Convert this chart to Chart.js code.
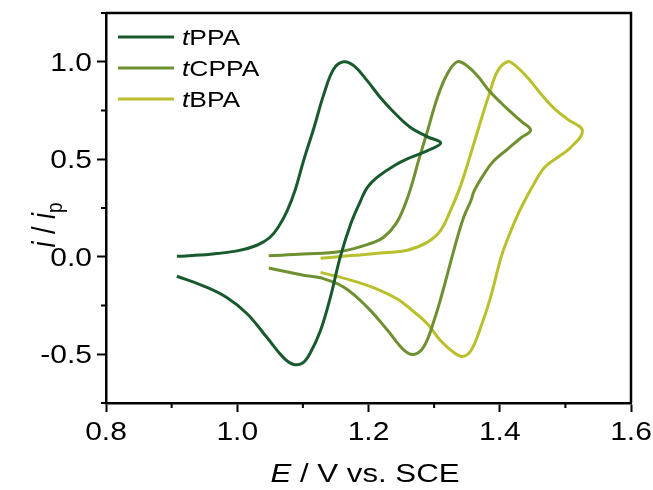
<!DOCTYPE html>
<html>
<head>
<meta charset="utf-8">
<script src="https://cdn.jsdelivr.net/npm/chart.js@4"></script>
<style>
  html, body { margin: 0; padding: 0; background: #fff; }
  #cv { display: block; }
</style>
</head>
<body>
<canvas id="cv" width="653" height="490"></canvas>
<script>
// cyclic voltammograms
var names = ['PPA', 'CPPA', 'BPA'];
var colors = ['rgb(24,90,45)', 'rgb(110,144,48)', 'rgb(185,192,44)'];

var tppaE = [0.908, 0.959, 1.000, 1.030, 1.050, 1.064, 1.076, 1.088, 1.101, 1.117, 1.132, 1.147, 1.162, 1.178, 1.198, 1.218, 1.239, 1.264, 1.290, 1.310,
             1.290, 1.264, 1.239, 1.213, 1.198, 1.188, 1.173, 1.157, 1.142, 1.127, 1.111, 1.099, 1.085, 1.070, 1.045, 1.015, 0.984, 0.948, 0.908];
var tppaI = [0.002, 0.013, 0.030, 0.059, 0.100, 0.160, 0.235, 0.340, 0.492, 0.663, 0.834, 0.963, 1.000, 0.979, 0.903, 0.817, 0.740, 0.663, 0.615, 0.583,
             0.544, 0.509, 0.467, 0.407, 0.355, 0.287, 0.169, -0.001, -0.207, -0.377, -0.495, -0.546, -0.551, -0.516, -0.413, -0.292, -0.209, -0.149, -0.100];

var tcppaE = [1.048, 1.101, 1.157, 1.203, 1.223, 1.242, 1.256, 1.266, 1.276, 1.290, 1.305, 1.320, 1.335, 1.348, 1.366, 1.386, 1.412, 1.432, 1.447,
              1.432, 1.412, 1.391, 1.376, 1.361, 1.356, 1.345, 1.330, 1.315, 1.300, 1.284, 1.269, 1.254, 1.229, 1.198, 1.162, 1.127, 1.101, 1.048];
var tcppaI = [0.005, 0.014, 0.027, 0.068, 0.100, 0.170, 0.270, 0.370, 0.490, 0.646, 0.817, 0.937, 1.000, 0.985, 0.928, 0.843, 0.757, 0.697, 0.650,
              0.609, 0.552, 0.492, 0.424, 0.338, 0.287, 0.202, 0.033, -0.155, -0.326, -0.463, -0.501, -0.479, -0.377, -0.258, -0.155, -0.108, -0.095, -0.058];

var tbpaE = [1.127, 1.173, 1.223, 1.259, 1.290, 1.310, 1.325, 1.338, 1.351, 1.368, 1.384, 1.397, 1.412, 1.422, 1.442, 1.463, 1.484, 1.503, 1.526,
             1.508, 1.488, 1.468, 1.452, 1.440, 1.426, 1.413, 1.402, 1.386, 1.371, 1.356, 1.343, 1.330, 1.310, 1.290, 1.264, 1.244, 1.213, 1.173, 1.127];
var tbpaI = [-0.008, 0.006, 0.020, 0.033, 0.075, 0.135, 0.238, 0.343, 0.475, 0.663, 0.834, 0.954, 1.000, 0.985, 0.920, 0.834, 0.757, 0.706, 0.646,
             0.560, 0.509, 0.458, 0.373, 0.300, 0.205, 0.100, -0.003, -0.208, -0.362, -0.482, -0.511, -0.491, -0.431, -0.345, -0.268, -0.217, -0.166, -0.120, -0.080];

var xTicks = [0.8, 1.0, 1.2, 1.4, 1.6];
var xMinor = [0.9, 1.1, 1.3, 1.5];
var yTicks = [-0.5, 0.0, 0.5, 1.0];
var yMinor = [-0.75, -0.25, 0.25, 0.75, 1.25];

var font = 'Liberation Sans, Arial, sans-serif';
var sx = 1.2;   // the original figure is stretched sideways a bit

function pts(xs, ys) {
  var out = [];
  for (var i = 0; i < xs.length; i++) out.push({x: xs[i], y: ys[i]});
  return out;
}

// draws a run of differently styled pieces as one stretched line of text
function drawRun(c, parts, x, y, align) {
  var w = 0;
  parts.forEach(function(p) { c.font = p[0]; w += c.measureText(p[1]).width; });
  var start = x;
  if (align == 'center') start = x - w * sx / 2;
  else if (align == 'right') start = x - w * sx;
  c.save();
  c.translate(start, y);
  c.scale(sx, 1);
  var xx = 0;
  parts.forEach(function(p) {
    c.font = p[0];
    c.fillText(p[1], xx, p[2] || 0);
    xx += c.measureText(p[1]).width;
  });
  c.restore();
}

var allE = [tppaE, tcppaE, tbpaE];
var allI = [tppaI, tcppaI, tbpaI];
var datasets = [];
for (var k = 0; k < names.length; k++) {
  datasets.push({
    label: 't' + names[k],
    data: pts(allE[k], allI[k]),
    showLine: true,
    borderColor: colors[k],
    backgroundColor: colors[k],
    borderWidth: 3,
    pointRadius: 0,
    tension: 0.4
  });
}

// frame, minor ticks, tick labels, titles and legend (mixed italic text)
var extras = {
  id: 'extras',
  afterDraw: function(chart) {
    var c = chart.ctx, a = chart.chartArea;
    var xs = chart.scales.x, ys = chart.scales.y;
    c.save();
    c.strokeStyle = '#000';
    c.lineWidth = 2.5;
    c.beginPath();
    c.moveTo(a.left, a.top); c.lineTo(a.right, a.top); c.lineTo(a.right, a.bottom);
    c.stroke();
    c.lineWidth = 2;
    xMinor.forEach(function(v) {
      var px = xs.getPixelForValue(v);
      c.beginPath(); c.moveTo(px, a.bottom); c.lineTo(px, a.bottom + 5); c.stroke();
    });
    yMinor.forEach(function(v) {
      var py = ys.getPixelForValue(v);
      c.beginPath(); c.moveTo(a.left, py); c.lineTo(a.left - 5, py); c.stroke();
    });

    c.fillStyle = '#000';
    c.textBaseline = 'alphabetic';
    var tf = '25px ' + font;
    xs.ticks.forEach(function(t) {
      drawRun(c, [[tf, t.value.toFixed(1)]], xs.getPixelForValue(t.value), 440, 'center');
    });
    ys.ticks.forEach(function(t) {
      drawRun(c, [[tf, t.value.toFixed(1)]], 92, ys.getPixelForValue(t.value) + 9, 'right');
    });

    // x title
    drawRun(c, [['italic 26px ' + font, 'E'], ['26px ' + font, ' / V vs. SCE']], 365, 482, 'center');

    // y title
    c.save();
    c.translate(55, 225);
    c.rotate(-Math.PI / 2);
    c.scale(1, sx);
    var yp = [['italic 27px ' + font, 'i', 0], ['27px ' + font, ' / ', 0], ['italic 27px ' + font, 'i', 0], ['19px ' + font, 'p', 6]];
    var w = 0;
    yp.forEach(function(p) { c.font = p[0]; w += c.measureText(p[1]).width; });
    var x0 = -w / 2;
    yp.forEach(function(p) { c.font = p[0]; c.fillText(p[1], x0, p[2]); x0 += c.measureText(p[1]).width; });
    c.restore();

    // legend
    var ly = [37, 68, 99];
    for (var k = 0; k < names.length; k++) {
      c.strokeStyle = colors[k];
      c.lineWidth = 3;
      c.beginPath(); c.moveTo(118, ly[k]); c.lineTo(174, ly[k]); c.stroke();
      drawRun(c, [['italic 22px ' + font, 't'], ['22px ' + font, names[k]]], 182, ly[k] + 8, 'left');
    }
    c.restore();
  }
};

new Chart(document.getElementById('cv'), {
  type: 'scatter',
  data: { datasets: datasets },
  plugins: [extras],
  options: {
    responsive: false,
    animation: false,
    layout: { padding: { left: 0, top: 13, right: 22, bottom: 0 } },
    plugins: { legend: { display: false }, tooltip: { enabled: false } },
    scales: {
      x: {
        min: 0.8, max: 1.6,
        afterBuildTicks: function(s) { s.ticks = xTicks.map(function(v) { return {value: v}; }); },
        afterFit: function(s) { s.height = 87; },
        border: { display: true, color: '#000', width: 2.5 },
        grid: { drawOnChartArea: false, drawTicks: true, tickLength: 9, tickWidth: 2, tickColor: '#000' },
        ticks: { display: false }
      },
      y: {
        min: -0.75, max: 1.25,
        afterBuildTicks: function(s) { s.ticks = yTicks.map(function(v) { return {value: v}; }); },
        afterFit: function(s) { s.width = 106; },
        border: { display: true, color: '#000', width: 2.5 },
        grid: { drawOnChartArea: false, drawTicks: true, tickLength: 9, tickWidth: 2, tickColor: '#000' },
        ticks: { display: false }
      }
    }
  }
});
</script>
</body>
</html>
